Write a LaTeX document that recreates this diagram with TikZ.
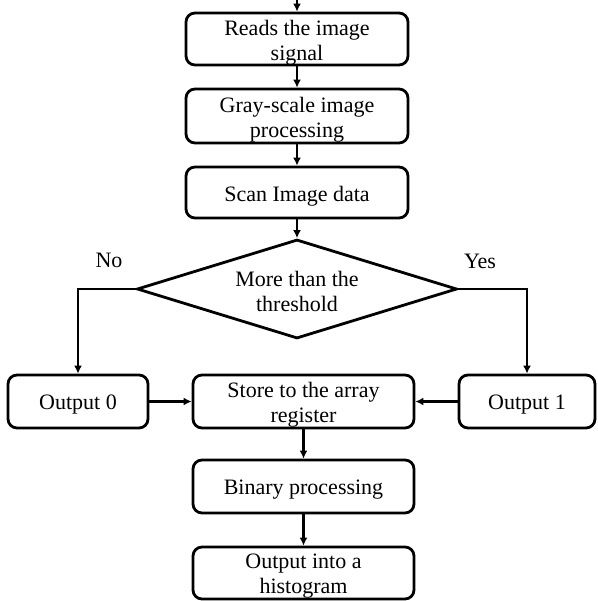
\documentclass[tikz,border=0pt]{standalone}
\usepackage{fontspec}
\setmainfont{Liberation Serif}
\usetikzlibrary{shapes.geometric,arrows.meta}

\begin{document}
\begin{tikzpicture}[x=1pt,y=-1pt,
  every node/.style={font=\fontsize{22}{25}\selectfont},
  % text sits slightly below the middle of its frame
  boxtext/.style={align=center, inner sep=0pt, yshift=-3.5pt},
  difftext/.style={align=center, inner sep=0pt, yshift=-2pt},
  flowbox/.style={draw, line width=2.8pt, rounded corners=9pt,
                  inner sep=0pt, minimum width=222pt},
  sidebox/.style={flowbox, minimum height=53pt},
  decision/.style={draw, line width=2.8pt, diamond, inner sep=0pt,
                   minimum width=320pt, minimum height=99pt},
  flow/.style={line width=2.8pt, -{Latex[length=8pt,width=8pt]}},
  tag/.style={anchor=base}
]
\useasboundingbox (0,0) rectangle (597,601);

% main column
\coordinate (entry) at (297,0);
\node[flowbox, minimum height=52pt, label={[boxtext]center:{Reads the image\\signal}}]
  (read) at (297,39) {};
\node[flowbox, minimum height=54pt, label={[boxtext]center:{Gray-scale image\\processing}}]
  (gray) at (297,116) {};
\node[flowbox, minimum height=51pt, label={[boxtext]center:{Scan Image data}}]
  (scan) at (297,192.5) {};
\node[decision, label={[difftext]center:{More than the\\threshold}}]
  (thr) at (297,289) {};

% outputs of the decision
\node[sidebox, minimum width=140pt, label={[boxtext]center:{Output 0}}]
  (out0) at (78,401.5) {};
\node[sidebox, minimum width=221pt, label={[boxtext]center:{Store to the array\\register}}]
  (store) at (303.5,401.5) {};
\node[sidebox, minimum width=136pt, label={[boxtext]center:{Output 1}}]
  (out1) at (527,401.5) {};

% final steps
\node[sidebox, minimum width=221pt, label={[boxtext]center:{Binary processing}}]
  (bin) at (303.5,486.5) {};
\node[flowbox, minimum width=221pt, minimum height=52pt,
      label={[boxtext]center:{Output into a\\histogram}}]
  (hist) at (303.5,573) {};

% branch labels
\node[tag] (no)  at (109,267) {No};
\node[tag] (yes) at (480,268) {Yes};

% connectors
\draw[flow] (entry) -- (read.north);
\draw[flow] (read) -- (gray);
\draw[flow] (gray) -- (scan);
\draw[flow] (scan) -- (thr.north);
\draw[flow] (thr.west) -| (out0.north);
\draw[flow] (thr.east) -| (out1.north);
\draw[flow] (out0) -- (store);
\draw[flow] (out1) -- (store);
\draw[flow] (store) -- (bin);
\draw[flow] (bin) -- (hist);
\end{tikzpicture}
\end{document}
